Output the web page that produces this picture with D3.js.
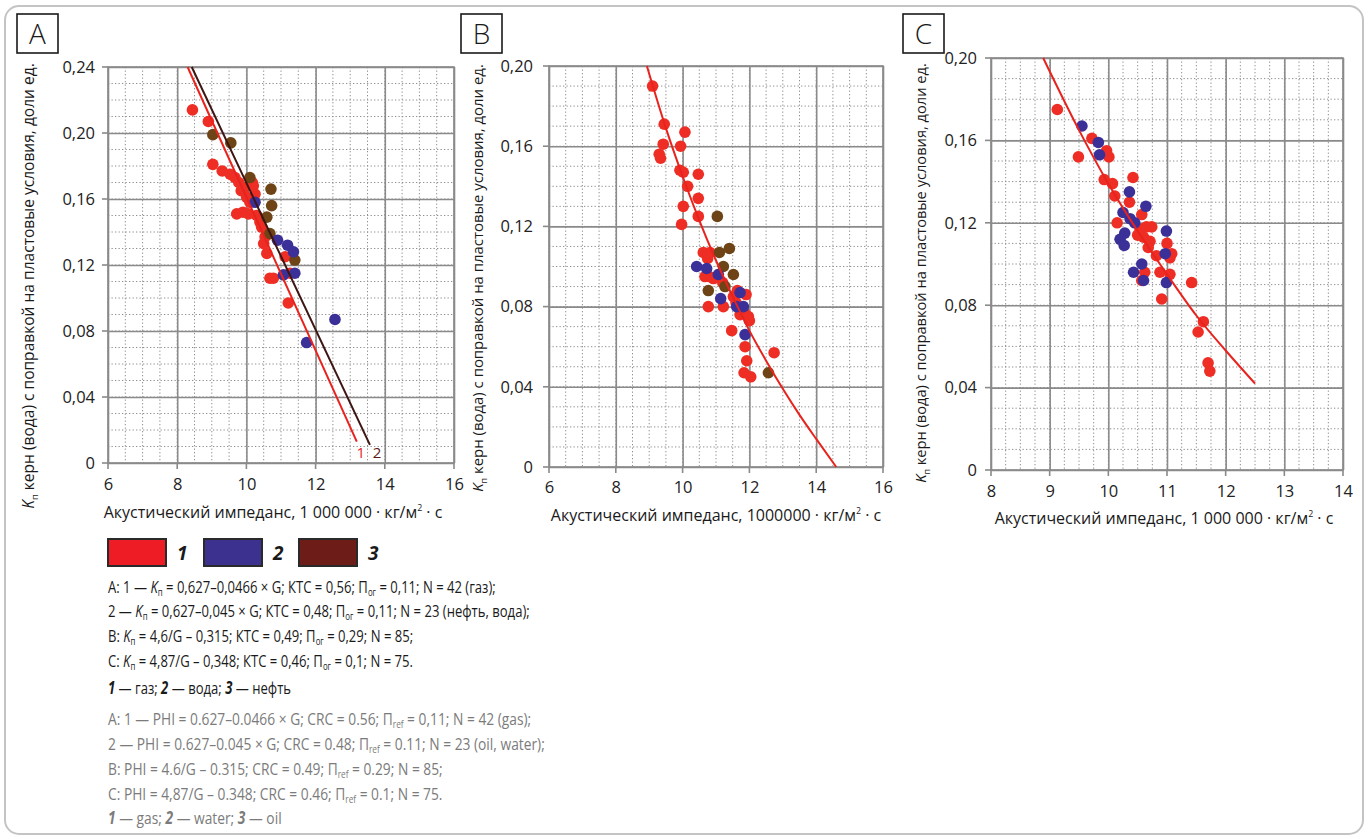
<!DOCTYPE html>
<html><head><meta charset="utf-8">
<script src="https://cdn.jsdelivr.net/npm/d3@7"></script>
<style>body{margin:0;background:#fff;} svg{display:block;font-family:'Open Sans',sans-serif;}</style>
</head><body><svg id="c" width="1369" height="839"></svg>
<script>
// ---------- DATA ----------
const aGas = [[8.44,0.214],[8.90,0.207],[9.03,0.181],[9.30,0.177],[9.53,0.175],[9.67,0.173],[9.78,0.170],[9.96,0.167],[10.17,0.170],[10.01,0.161],[10.25,0.163],[10.10,0.158],[9.72,0.151],[10.06,0.151],[9.90,0.152],[10.30,0.150],[10.39,0.146],[10.44,0.143],[10.54,0.137],[10.50,0.133],[10.59,0.127],[10.68,0.112],[10.78,0.112],[11.12,0.125],[11.26,0.115],[11.21,0.097],[10.20,0.168],[9.85,0.165]];
const aWater = [[10.25,0.158],[10.90,0.135],[11.19,0.132],[11.36,0.128],[11.40,0.115],[11.07,0.114],[12.56,0.087],[11.74,0.073]];
const aOil = [[9.03,0.199],[9.55,0.194],[10.10,0.173],[10.71,0.166],[10.73,0.156],[10.59,0.149],[10.68,0.139],[11.40,0.123]];
const aLine1 = [[8.30,0.240],[13.19,0.013]];
const aLine2 = [[8.42,0.240],[13.57,0.011]];

const bGas = [[9.10,0.190],[9.45,0.171],[10.07,0.167],[9.42,0.161],[9.94,0.160],[9.30,0.156],[9.34,0.154],[9.92,0.148],[10.02,0.147],[10.47,0.146],[10.15,0.140],[10.47,0.134],[10.02,0.130],[10.47,0.125],[9.97,0.121],[10.62,0.107],[10.82,0.107],[10.75,0.104],[10.67,0.095],[10.80,0.095],[10.92,0.094],[10.77,0.080],[11.22,0.080],[11.52,0.085],[11.64,0.088],[11.90,0.086],[11.72,0.076],[11.85,0.077],[11.97,0.075],[12.00,0.073],[11.47,0.068],[11.87,0.060],[11.92,0.053],[11.84,0.047],[12.04,0.045],[12.74,0.057],[11.60,0.082],[11.20,0.092]];
const bWater = [[10.42,0.100],[10.72,0.099],[11.07,0.096],[11.14,0.084],[11.72,0.087],[11.82,0.080],[11.87,0.066],[11.62,0.080]];
const bOil = [[11.04,0.125],[11.10,0.107],[11.40,0.109],[11.52,0.096],[11.22,0.100],[10.77,0.088],[11.27,0.090],[12.57,0.047]];
const bCurve = [[8.93,0.200],[9.5,0.169],[10,0.145],[10.5,0.123],[11,0.103],[11.5,0.085],[12,0.068],[12.5,0.053],[13,0.039],[13.5,0.026],[14,0.014],[14.6,0.000]];

const cGas = [[9.13,0.175],[9.72,0.161],[9.49,0.152],[9.97,0.155],[10.01,0.152],[9.93,0.141],[10.07,0.139],[10.11,0.133],[10.42,0.142],[10.36,0.130],[10.15,0.120],[10.57,0.124],[10.54,0.117],[10.65,0.118],[10.74,0.118],[10.60,0.113],[10.71,0.111],[11.00,0.110],[10.82,0.104],[11.08,0.105],[11.05,0.103],[10.88,0.096],[11.05,0.095],[10.62,0.096],[10.57,0.092],[11.42,0.091],[10.91,0.083],[11.62,0.072],[11.53,0.067],[11.70,0.052],[11.73,0.048],[10.50,0.114],[10.68,0.108]];
const cWater = [[9.55,0.167],[9.83,0.159],[9.85,0.153],[10.36,0.135],[10.64,0.128],[10.25,0.125],[10.37,0.122],[10.45,0.120],[10.28,0.115],[10.20,0.112],[10.27,0.109],[10.99,0.116],[10.97,0.105],[10.57,0.100],[10.43,0.096],[10.60,0.092],[10.99,0.091]];
const cCurve = [[8.89,0.200],[9.5,0.165],[10,0.139],[10.5,0.116],[11,0.095],[11.5,0.075],[12,0.058],[12.5,0.042]];

const aXTicks = [6,8,10,12,14,16], aYTicks = [0,0.04,0.08,0.12,0.16,0.20,0.24];
const bXTicks = [6,8,10,12,14,16], bYTicks = [0,0.04,0.08,0.12,0.16,0.20];
const cXTicks = [8,9,10,11,12,13,14], cYTicks = [0,0.04,0.08,0.12,0.16,0.20];

const legendLabels = ["1","2","3"];
const captionRu = [
 [["A: 1 — "],["K","i"],["п","sub"],[" = 0,627–0,0466 × G; КТС = 0,56; П"],["ог","sub"],[" = 0,11; N = 42 (газ);"]],
 [["2 — "],["K","i"],["п","sub"],[" = 0,627–0,045 × G; КТС = 0,48; П"],["ог","sub"],[" = 0,11; N = 23 (нефть, вода);"]],
 [["B: "],["K","i"],["п","sub"],[" = 4,6/G – 0,315; КТС = 0,49; П"],["ог","sub"],[" = 0,29; N = 85;"]],
 [["C: "],["K","i"],["п","sub"],[" = 4,87/G – 0,348; КТС = 0,46; П"],["ог","sub"],[" = 0,1; N = 75."]],
 [["1","bi"],[" — газ; "],["2","bi"],[" — вода; "],["3","bi"],[" — нефть"]]
];
const captionEn = [
 [["A: 1 — PHI = 0.627–0.0466 × G; CRC = 0.56; П"],["ref","sub"],[" = 0,11; N = 42 (gas);"]],
 [["2 — PHI = 0.627–0.045 × G; CRC = 0.48; П"],["ref","sub"],[" = 0.11; N = 23 (oil, water);"]],
 [["B: PHI = 4.6/G – 0.315; CRC = 0.49; П"],["ref","sub"],[" = 0.29; N = 85;"]],
 [["C: PHI = 4,87/G – 0.348; CRC = 0.46; П"],["ref","sub"],[" = 0.1; N = 75."]],
 [["1","bi"],[" — gas; "],["2","bi"],[" — water; "],["3","bi"],[" — oil"]]
];

// ---------- STYLE ----------
const RED = "#ee2e24", BLUE = "#3b2f98", BROWN = "#6e4416";
const svg = d3.select("#c");
svg.append("rect").attr("x",5).attr("y",6).attr("width",1358).attr("height",828).attr("rx",14)
  .attr("fill","#fff").attr("stroke","#c4c4c4").attr("stroke-width",2);

const fmtY = d => d === 0 ? "0" : d3.format(".2f")(d).replace(".", ",");

function richText(sel, segs, sdy) {
  let sub = false;
  segs.forEach(([t, st]) => {
    const ts = sel.append("tspan").text(t);
    if (st === "i") ts.attr("font-style","italic");
    if (st === "bi") ts.attr("font-style","italic").attr("font-weight","bold");
    if (st === "sub") { ts.attr("font-size","0.6em").attr("dy", sdy); sub = true; }
    else if (sub) { ts.attr("dy", -sdy); sub = false; }
  });
}

function panel(cfg) {
  const [x0,x1,y0,y1] = cfg.box;
  const x = d3.scaleLinear().domain(cfg.xDomain).range([x0,x1]);
  const y = d3.scaleLinear().domain(cfg.yDomain).range([y1,y0]);
  const g = svg.append("g");
  const xs = d3.range(cfg.xDomain[0], cfg.xDomain[1]+1e-9, cfg.xMinor);
  const ys = d3.range(cfg.yDomain[0], cfg.yDomain[1]+1e-9, 0.01);
  g.selectAll(".mx").data(xs).join("line").attr("x1",d=>x(d)).attr("x2",d=>x(d)).attr("y1",y0).attr("y2",y1)
    .attr("stroke","#8f8f8f").attr("stroke-width",1).attr("stroke-dasharray","1.3,2.2");
  g.selectAll(".my").data(ys).join("line").attr("y1",d=>y(d)).attr("y2",d=>y(d)).attr("x1",x0).attr("x2",x1)
    .attr("stroke","#8f8f8f").attr("stroke-width",1).attr("stroke-dasharray","1.3,2.2");
  const ax = g.append("g").attr("transform",`translate(0,${y1})`)
    .call(d3.axisBottom(x).tickValues(cfg.xTicks).tickSize(-(y1-y0)).tickSizeOuter(0).tickPadding(cfg.xPad).tickFormat(d3.format("d")));
  const ay = g.append("g").attr("transform",`translate(${x0},0)`)
    .call(d3.axisLeft(y).tickValues(cfg.yTicks).tickSize(-(x1-x0)).tickSizeOuter(0).tickPadding(cfg.yPad).tickFormat(fmtY));
  [ax, ay].forEach(a => {
    a.attr("font-size",null).attr("font-family",null);
    a.select(".domain").remove();
    a.selectAll("line").attr("stroke","#8a8a8a").attr("stroke-width",1.6);
    a.selectAll("text").style("font-size","16.5px").attr("fill","#222").style("font-family","'Open Sans',sans-serif");
  });
  g.selectAll(".tx").data(cfg.xTicks).join("line").attr("x1",d=>x(d)).attr("x2",d=>x(d)).attr("y1",y1).attr("y2",y1+6)
    .attr("stroke","#8a8a8a").attr("stroke-width",1.6);
  g.selectAll(".ty").data(cfg.yTicks).join("line").attr("y1",d=>y(d)).attr("y2",d=>y(d)).attr("x1",x0-6).attr("x2",x0)
    .attr("stroke","#8a8a8a").attr("stroke-width",1.6);
  g.append("rect").attr("x",x0).attr("y",y0).attr("width",x1-x0).attr("height",y1-y0)
    .attr("fill","none").attr("stroke","#8a8a8a").attr("stroke-width",1.6);
  cfg.series.forEach(s => {
    g.append("g").selectAll("circle").data(s.data).join("circle")
      .attr("cx",d=>x(d[0])).attr("cy",d=>y(d[1])).attr("r",5.8).attr("fill",s.color);
  });
  cfg.lines.forEach(l => {
    g.append("path").datum(l.pts).attr("fill","none").attr("stroke",l.color).attr("stroke-width",2)
      .attr("d", d3.line().x(d=>x(d[0])).y(d=>y(d[1])).curve(d3.curveMonotoneX));
  });
  svg.append("rect").attr("x",cfg.lab[0]).attr("y",cfg.lab[1]).attr("width",41).attr("height",39)
    .attr("fill","#fff").attr("stroke","#1a1a1a").attr("stroke-width",1.6);
  svg.append("text").attr("x",cfg.lab[0]+20.5).attr("y",cfg.lab[1]+30).attr("text-anchor","middle")
    .attr("font-size",28).attr("font-weight",300).attr("fill","#1a1a1a").text(cfg.label);
  const xt = svg.append("text").attr("x",cfg.xTitle[0]).attr("y",cfg.xTitle[1]).attr("text-anchor","middle")
    .attr("font-size",16).attr("fill","#1a1a1a");
  xt.append("tspan").text(cfg.xText);
  xt.append("tspan").text("2").attr("font-size","0.55em").attr("dy",-7);
  xt.append("tspan").text(" · с").attr("dy",7);
  const yt = svg.append("text").attr("transform",`translate(${cfg.yTitle[0]},${cfg.yTitle[1]}) rotate(-90)`)
    .attr("text-anchor","middle").attr("font-size",14).attr("fill","#1a1a1a");
  richText(yt, [["K","i"],["п","sub"],[" керн (вода) с поправкой на пластовые условия, доли ед."]], 4);
  const w = yt.node().getBBox().width;
  yt.attr("font-size", 14 * cfg.yTitle[2] / w);
  return {x, y, g};
}

const pA = panel({label:"A", lab:[17,14], box:[108,454,67,463], xDomain:[6,16], yDomain:[0,0.24], xMinor:0.5,
  xTicks:aXTicks, yTicks:aYTicks, xPad:15, yPad:13,
  series:[{data:aGas,color:RED},{data:aOil,color:BROWN},{data:aWater,color:BLUE}],
  lines:[{pts:aLine1,color:"#e8231e"},{pts:aLine2,color:"#3d1512"}],
  xTitle:[273,518], xText:"Акустический импеданс, 1 000 000 · кг/м", yTitle:[34,286,446]});
svg.append("text").attr("x",pA.x(aLine1[1][0])+4).attr("y",pA.y(0)-5).attr("font-size",15).attr("fill","#e8231e").attr("text-anchor","middle").text("1");
svg.append("text").attr("x",pA.x(aLine2[1][0])+7).attr("y",pA.y(0)-5).attr("font-size",15).attr("fill","#5a1a14").attr("text-anchor","middle").text("2");

panel({label:"B", lab:[461,14], box:[549,883,66,467], xDomain:[6,16], yDomain:[0,0.20], xMinor:0.5,
  xTicks:bXTicks, yTicks:bYTicks, xPad:14, yPad:16,
  series:[{data:bGas,color:RED},{data:bOil,color:BROWN},{data:bWater,color:BLUE}],
  lines:[{pts:bCurve,color:"#e8231e"}],
  xTitle:[716,521], xText:"Акустический импеданс, 1000000 · кг/м", yTitle:[483,278,428]});

panel({label:"C", lab:[903,14], box:[991,1343,58,470], xDomain:[8,14], yDomain:[0,0.20], xMinor:0.25,
  xTicks:cXTicks, yTicks:cYTicks, xPad:15, yPad:14,
  series:[{data:cGas,color:RED},{data:cWater,color:BLUE}],
  lines:[{pts:cCurve,color:"#e8231e"}],
  xTitle:[1164,524], xText:"Акустический импеданс, 1 000 000 · кг/м", yTitle:[926,273,420]});

// ---------- LEGEND ----------
const legColors = ["#ee1c25","#3d3190","#6e1c17"];
const legX = [108,204,299];
legendLabels.forEach((l,i) => {
  svg.append("rect").attr("x",legX[i]).attr("y",539).attr("width",58).attr("height",27)
    .attr("fill",legColors[i]).attr("stroke","#2a2a2a").attr("stroke-width",2);
  svg.append("text").attr("x",legX[i]+69).attr("y",560).attr("font-size",19).attr("font-weight","bold")
    .attr("font-style","italic").attr("fill","#1a1a1a").text(l);
});

// ---------- CAPTION ----------
const ruY = [593,617,642,667,694], enY = [725,750,775,800,824];
const ruLines = [], enLines = [];
captionRu.forEach((segs,i) => {
  const t = svg.append("text").attr("font-size",17).attr("fill","#1a1a1a");
  richText(t, segs, 3); ruLines.push({t, y:ruY[i]});
});
captionEn.forEach((segs,i) => {
  const t = svg.append("text").attr("font-size",17).attr("fill","#7b7b7b");
  richText(t, segs, 3); enLines.push({t, y:enY[i]});
});
const kRu = 422 / ruLines[1].t.node().getBBox().width;
const kEn = 437 / enLines[1].t.node().getBBox().width;
ruLines.forEach(l => l.t.attr("transform",`translate(108,${l.y}) scale(${kRu},1)`));
enLines.forEach(l => l.t.attr("transform",`translate(108,${l.y}) scale(${kEn},1)`));
</script></body></html>
